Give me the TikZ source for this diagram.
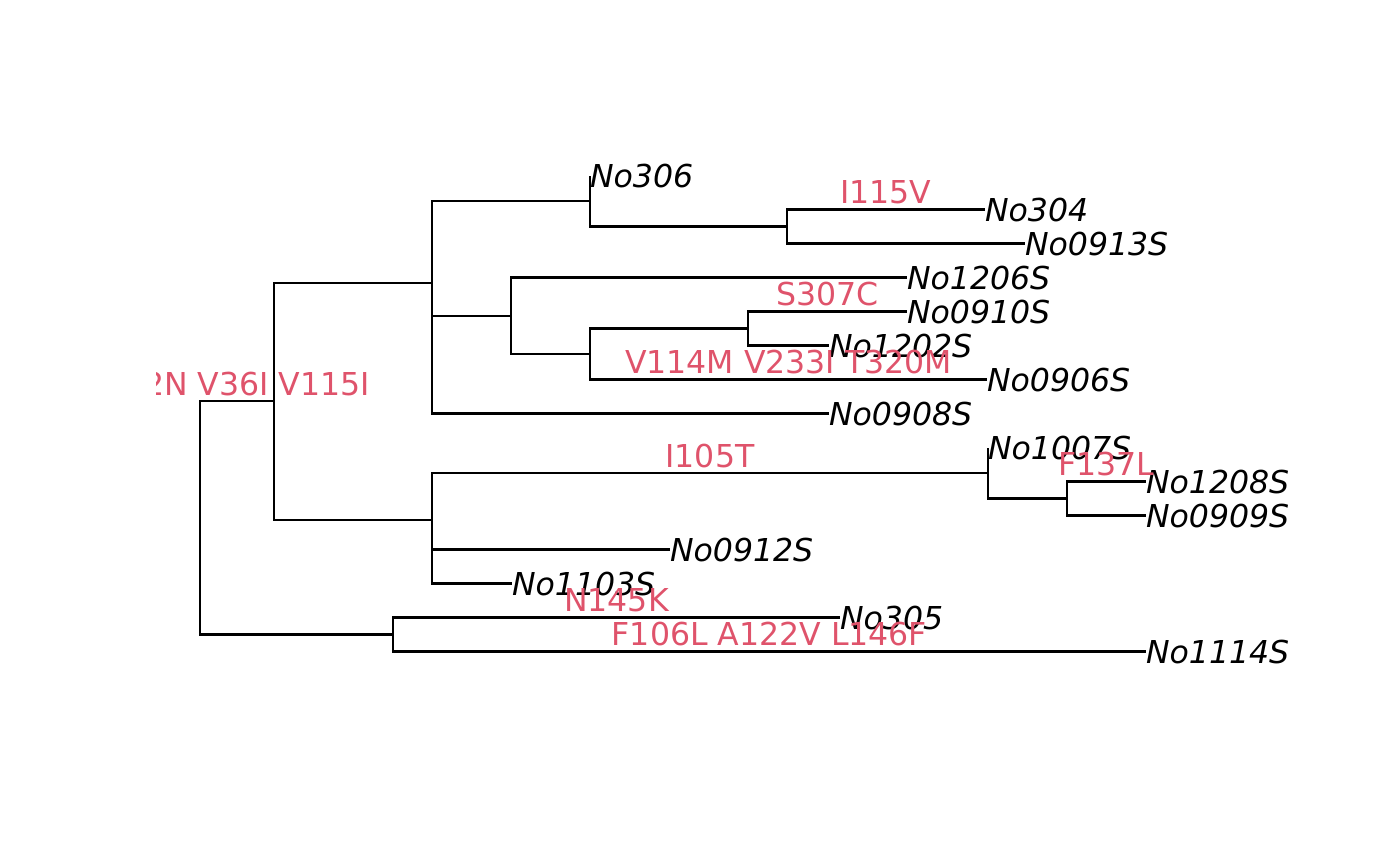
\documentclass[tikz,border=0pt]{standalone}
\usepackage{fontspec}
\setmainfont{DejaVu Sans}[ItalicFont={DejaVu Sans Oblique}]
\usetikzlibrary{calc}
\definecolor{mutred}{HTML}{DF536B}

\begin{document}
\begin{tikzpicture}[
    x=0.0127cm, y=-0.0127cm,
    edge/.style={draw, line width=0.75pt},
    tip/.style={anchor=west, inner sep=0pt, outer sep=0pt, font=\fontsize{11.4}{13}\selectfont\itshape},
    mut/.style={anchor=base, inner sep=0pt, outer sep=0pt, text=mutred, font=\fontsize{11.4}{13}\selectfont, yshift=0.076cm}
]
\useasboundingbox (0,0) rectangle (1400,866);

% tips
\node[tip] (No306)   at (590,175.5)  {No306};
\node[tip] (No304)   at (985,209.5)  {No304};
\node[tip] (No0913S) at (1025,243.5) {No0913S};
\node[tip] (No1206S) at (907,277.5)  {No1206S};
\node[tip] (No0910S) at (907,311.5)  {No0910S};
\node[tip] (No1202S) at (829,345.5)  {No1202S};
\node[tip] (No0906S) at (987,379.5)  {No0906S};
\node[tip] (No0908S) at (829,413.5)  {No0908S};
\node[tip] (No1007S) at (988,447.5)  {No1007S};
\node[tip] (No1208S) at (1146,481.5) {No1208S};
\node[tip] (No0909S) at (1146,515.5) {No0909S};
\node[tip] (No0912S) at (670,549.5)  {No0912S};
\node[tip] (No1103S) at (512,583.5)  {No1103S};
\node[tip] (No305)   at (840,617.5)  {No305};
\node[tip] (No1114S) at (1146,651.5) {No1114S};

% internal nodes
\coordinate (root)    at (200,517.9);
\coordinate (nA)      at (274,401.3);
\coordinate (nB)      at (432,282.8);
\coordinate (nB2)     at (432,364.6);
\coordinate (n590top) at (590,201);
\coordinate (n787)    at (787,226.5);
\coordinate (n511)    at (511,315.75);
\coordinate (n590mid) at (590,354);
\coordinate (n748)    at (748,328.5);
\coordinate (nC)      at (432,519.75);
\coordinate (n988)    at (988,473);
\coordinate (n1067)   at (1067,498.5);
\coordinate (nZ)      at (432,566.5);
\coordinate (nD)      at (393,634.5);

% branches
\draw[edge] (root) |- (nA);
\draw[edge] (root) |- (nD);
\draw[edge] (nA) |- (nB);
\draw[edge] (nA) |- (nC);
\draw[edge] (nB) |- (n590top);
\draw[edge] (nB) |- (nB2);
\draw[edge] (nB2) |- (n511);
\draw[edge] (nB2) |- (No0908S.west);
\draw[edge] (n590top) |- (No306.west);
\draw[edge] (n590top) |- (n787);
\draw[edge] (n787) |- (No304.west);
\draw[edge] (n787) |- (No0913S.west);
\draw[edge] (n511) |- (No1206S.west);
\draw[edge] (n511) |- (n590mid);
\draw[edge] (n590mid) |- (n748);
\draw[edge] (n590mid) |- (No0906S.west);
\draw[edge] (n748) |- (No0910S.west);
\draw[edge] (n748) |- (No1202S.west);
\draw[edge] (nC) |- (n988);
\draw[edge] (nC) |- (nZ);
\draw[edge] (nZ) |- (No0912S.west);
\draw[edge] (nZ) |- (No1103S.west);
\draw[edge] (n988) |- (No1007S.west);
\draw[edge] (n988) |- (n1067);
\draw[edge] (n1067) |- (No1208S.west);
\draw[edge] (n1067) |- (No0909S.west);
\draw[edge] (nD) |- (No305.west);
\draw[edge] (nD) |- (No1114S.west);

% mutations on branches
\node[mut] (mI115V) at ($(n787|-No304.west)!0.5!(No304.west)$) {I115V};
\node[mut] (mS307C) at ($(n748|-No0910S.west)!0.5!(No0910S.west)$) {S307C};
\node[mut] (mV114M) at ($(n590mid|-No0906S.west)!0.5!(No0906S.west)$) {V114M V233I T320M};
\node[mut] (mI105T) at ($(nC|-n988)!0.5!(n988)$) {I105T};
\node[mut] (mF137L) at ($(n1067|-No1208S.west)!0.5!(No1208S.west)$) {F137L};
\node[mut] (mN145K) at ($(nD|-No305.west)!0.5!(No305.west)$) {N145K};
\node[mut] (mF106L) at ($(nD|-No1114S.west)!0.5!(No1114S.west)$) {F106L A122V L146F};
\begin{scope}
  \clip (156,0) rectangle (1400,866);
  \node[mut, anchor=base east] (mroot) at (370,401.3) {2N V36I V115I};
\end{scope}
\end{tikzpicture}
\end{document}
